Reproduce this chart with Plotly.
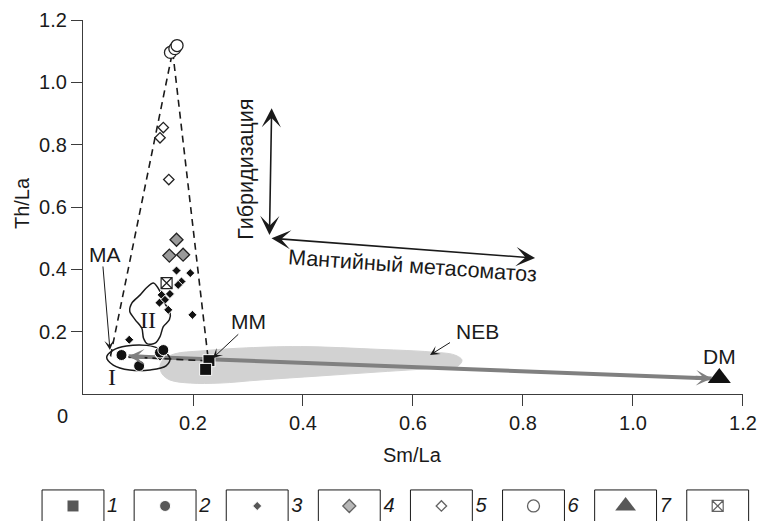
import plotly.graph_objects as go

# ---------------- data ----------------
s1_x = [0.229, 0.223]; s1_y = [0.107, 0.079]                       # 1 black squares
s2_x = [0.070, 0.102, 0.140, 0.146]; s2_y = [0.125, 0.090, 0.133, 0.141]  # 2 black circles
s3_x = [0.170, 0.195, 0.179, 0.173, 0.158, 0.143, 0.149, 0.139, 0.155, 0.199, 0.084, 0.140]
s3_y = [0.396, 0.388, 0.361, 0.350, 0.321, 0.318, 0.302, 0.293, 0.270, 0.254, 0.174, 0.120]
s4_x = [0.170, 0.157, 0.182]; s4_y = [0.495, 0.444, 0.447]          # 4 grey diamonds
s5_x = [0.146, 0.140, 0.156]; s5_y = [0.855, 0.822, 0.688]          # 5 open diamonds
s6_x = [0.159, 0.167, 0.171]; s6_y = [1.096, 1.108, 1.118]          # 6 open circles
s7_x = [1.157]; s7_y = [0.051]                                      # 7 DM triangle
s8_x = [0.152]; s8_y = [0.356]                                      # 8 crossed square

mix_x = [0.050, 0.163, 0.228, 0.050]
mix_y = [0.122, 1.100, 0.106, 0.122]

trend_x = [0.083, 1.143]    # grey mantle trend (MA ... DM)
trend_y = [0.121, 0.050]

neb_x = [0.140, 0.145, 0.167, 0.213, 0.285, 0.395, 0.540, 0.631, 0.676, 0.689,
         0.682, 0.649, 0.540, 0.431, 0.322, 0.249, 0.195, 0.158, 0.144, 0.140]
neb_y = [0.087, 0.109, 0.129, 0.138, 0.147, 0.152, 0.143, 0.135, 0.125, 0.109,
         0.090, 0.084, 0.071, 0.058, 0.045, 0.035, 0.035, 0.045, 0.064, 0.087]

f1_x = [0.043, 0.055, 0.079, 0.116, 0.140, 0.158, 0.151, 0.122, 0.085, 0.055, 0.043]
f1_y = [0.118, 0.141, 0.154, 0.156, 0.144, 0.115, 0.090, 0.077, 0.077, 0.093, 0.118]

f2_x = [0.128, 0.140, 0.146, 0.158, 0.157, 0.146, 0.140, 0.131, 0.117, 0.110,
        0.107, 0.095, 0.085, 0.089, 0.104, 0.115, 0.128]
f2_y = [0.356, 0.329, 0.297, 0.265, 0.238, 0.216, 0.184, 0.163, 0.161, 0.179,
        0.211, 0.238, 0.265, 0.292, 0.318, 0.340, 0.356]

tick_vals = [0.2, 0.4, 0.6, 0.8, 1.0, 1.2]
tick_text = ["0.2", "0.4", "0.6", "0.8", "1.0", "1.2"]

legend_labels = ["1", "2", "3", "4", "5", "6", "7", "8"]

# ---------------- styles ----------------
FONT = "Liberation Sans, Arial, sans-serif"
INK = "#1a1a1a"
AX = "#3c3c3c"

styles = [
    dict(symbol="square", size=12, color="#111111", lc="white", lw=1),
    dict(symbol="circle", size=11, color="#111111", lc="white", lw=1),
    dict(symbol="diamond", size=7, color="#111111", lc="white", lw=1),
    dict(symbol="diamond", size=10, color="#9a9a9a", lc="#222222", lw=1.3),
    dict(symbol="diamond", size=8, color="white", lc="#222222", lw=1.3),
    dict(symbol="circle", size=12, color="white", lc="#222222", lw=1.3),
    dict(symbol="triangle-up", size=20, color="#111111", lc="#111111", lw=0),
    dict(symbol="square-x", size=11, color="white", lc="#222222", lw=1.2),
]
series = [(s1_x, s1_y), (s2_x, s2_y), (s3_x, s3_y), (s4_x, s4_y),
          (s5_x, s5_y), (s6_x, s6_y), (s7_x, s7_y), (s8_x, s8_y)]

fig = go.Figure()

# NEB field
fig.add_trace(go.Scatter(x=neb_x, y=neb_y, mode="lines", fill="toself",
                         fillcolor="#d2d2d2", line=dict(color="#d2d2d2", width=1, shape="spline"),
                         hoverinfo="skip", showlegend=False))
# grey trend line (arrow heads added as annotations)
fig.add_trace(go.Scatter(x=trend_x, y=trend_y, mode="lines",
                         line=dict(color="#808080", width=4),
                         hoverinfo="skip", showlegend=False))
# fields I and II
fig.add_trace(go.Scatter(x=f1_x, y=f1_y, mode="lines",
                         line=dict(color=INK, width=1.5, shape="spline", smoothing=1),
                         hoverinfo="skip", showlegend=False))
fig.add_trace(go.Scatter(x=f2_x, y=f2_y, mode="lines",
                         line=dict(color=INK, width=1.5, shape="spline", smoothing=0.8),
                         hoverinfo="skip", showlegend=False))
# mixing triangle (dashed)
fig.add_trace(go.Scatter(x=mix_x, y=mix_y, mode="lines",
                         line=dict(color=INK, width=1.6, dash="7px,5px"),
                         hoverinfo="skip", showlegend=False))

# data points
order = [7, 4, 5, 3, 2, 1, 0, 6]
for i in order:
    st = styles[i]
    xs, ys = series[i]
    fig.add_trace(go.Scatter(x=xs, y=ys, mode="markers",
                             marker=dict(symbol=st["symbol"], size=st["size"], color=st["color"],
                                         line=dict(color=st["lc"], width=st["lw"])),
                             showlegend=False))

# legend row (own subplot)
leg_idx = list(range(len(legend_labels)))
fig.add_trace(go.Scatter(
    x=leg_idx, y=[0.30] * len(leg_idx), mode="markers", xaxis="x2", yaxis="y2",
    marker=dict(symbol=[s["symbol"] for s in styles],
                size=[min(s["size"], 18) for s in styles],
                color=[s["color"] for s in styles],
                line=dict(color=[s["lc"] for s in styles], width=[s["lw"] for s in styles])),
    showlegend=False, hoverinfo="skip"))
fig.add_trace(go.Scatter(
    x=[i + 0.37 for i in leg_idx], y=[0.27] * len(leg_idx), mode="text",
    text=[f"<i>{t}</i>" for t in legend_labels], textposition="middle right",
    textfont=dict(family=FONT, size=20, color=INK), xaxis="x2", yaxis="y2",
    showlegend=False, hoverinfo="skip"))

shapes = []
for i in leg_idx:
    x0, x1 = i - 0.336, i + 0.336
    shapes.append(dict(type="path", xref="x2", yref="y2",
                       path=f"M {x0},-0.2 L {x0},0.62 L {x1},0.62 L {x1},-0.2",
                       line=dict(color=INK, width=1)))

ann = []
def txt(x, y, s, size=21, angle=0, family=FONT):
    ann.append(dict(x=x, y=y, xref="x", yref="y", text=s, showarrow=False,
                    xanchor="center", yanchor="middle",
                    textangle=angle, font=dict(family=family, size=size, color=INK)))

def arrow(x, y, ax, ay, color=INK, width=1.0, head=3, size=1.5, both=False):
    ann.append(dict(x=x, y=y, ax=ax, ay=ay, xref="x", yref="y", axref="x", ayref="y",
                    text="", showarrow=True, arrowcolor=color, arrowwidth=width,
                    arrowhead=head, arrowsize=size, startarrowhead=head, startarrowsize=size,
                    arrowside="end+start" if both else "end"))

# grey trend arrow heads: short segments at each end of the trend line
for k in (0, 1):
    j = 1 - k
    tx = trend_x[k] + 0.03 * (trend_x[j] - trend_x[k])
    ty = trend_y[k] + 0.03 * (trend_y[j] - trend_y[k])
    arrow(trend_x[k], trend_y[k], tx, ty, color="#808080", width=4, head=3, size=0.65)

# labels with pointers
txt(0.040, 0.446, "MA")
arrow(0.049, 0.141, 0.036, 0.414, width=1, size=1.6)
txt(0.300, 0.232, "MM")
arrow(0.236, 0.115, 0.285, 0.196, width=1, size=1.6)
txt(0.718, 0.199, "NEB")
arrow(0.631, 0.125, 0.670, 0.168, width=1, size=1.6)
txt(1.158, 0.119, "DM")
txt(0.053, 0.055, "I", size=24, family="Liberation Serif, Times New Roman, serif")
txt(0.118, 0.237, "II", size=24, family="Liberation Serif, Times New Roman, serif")
# process arrows
arrow(0.343, 0.917, 0.339, 0.505, width=1.6, size=2.0, both=True)
arrow(0.822, 0.436, 0.340, 0.500, width=1.6, size=2.0, both=True)
txt(0.297, 0.721, "Гибридизация", angle=-90, size=21.5)
txt(0.600, 0.410, "Мантийный метасоматоз", angle=4, size=21.5)

# axis titles and corner zero
def ptxt(x, y, s, angle=0):
    ann.append(dict(x=x, y=y, xref="paper", yref="paper", text=s, showarrow=False,
                    xanchor="center", yanchor="middle", textangle=angle,
                    font=dict(family=FONT, size=20, color=INK)))
ptxt(-0.0253, 0.6347, "Th/La", angle=-90)
ptxt(0.5246, 0.1317, "Sm/La")
ptxt(0.0323, 0.2096, "0")

axis_common = dict(showgrid=False, zeroline=False, showline=True, linecolor=AX, linewidth=1.2,
                   ticks="outside", ticklen=11, tickwidth=1.2, tickcolor=AX,
                   tickvals=tick_vals, ticktext=tick_text,
                   tickfont=dict(family=FONT, size=20, color=INK), range=[0, 1.2])

fig.update_layout(
    width=771, height=521,
    margin=dict(l=40, r=20, t=20, b=0),
    paper_bgcolor="white", plot_bgcolor="white",
    showlegend=False,
    xaxis=dict(domain=[0.0605, 0.9887], anchor="y", **axis_common),
    yaxis=dict(domain=[0.2535, 1.0], anchor="x", **axis_common),
    xaxis2=dict(domain=[0, 1], anchor="y2", range=[-0.3583, 7.3616], visible=False),
    yaxis2=dict(domain=[0, 0.1], anchor="x2", range=[0, 1], visible=False),
    shapes=shapes,
    annotations=ann,
)

fig.write_html("out.html")
